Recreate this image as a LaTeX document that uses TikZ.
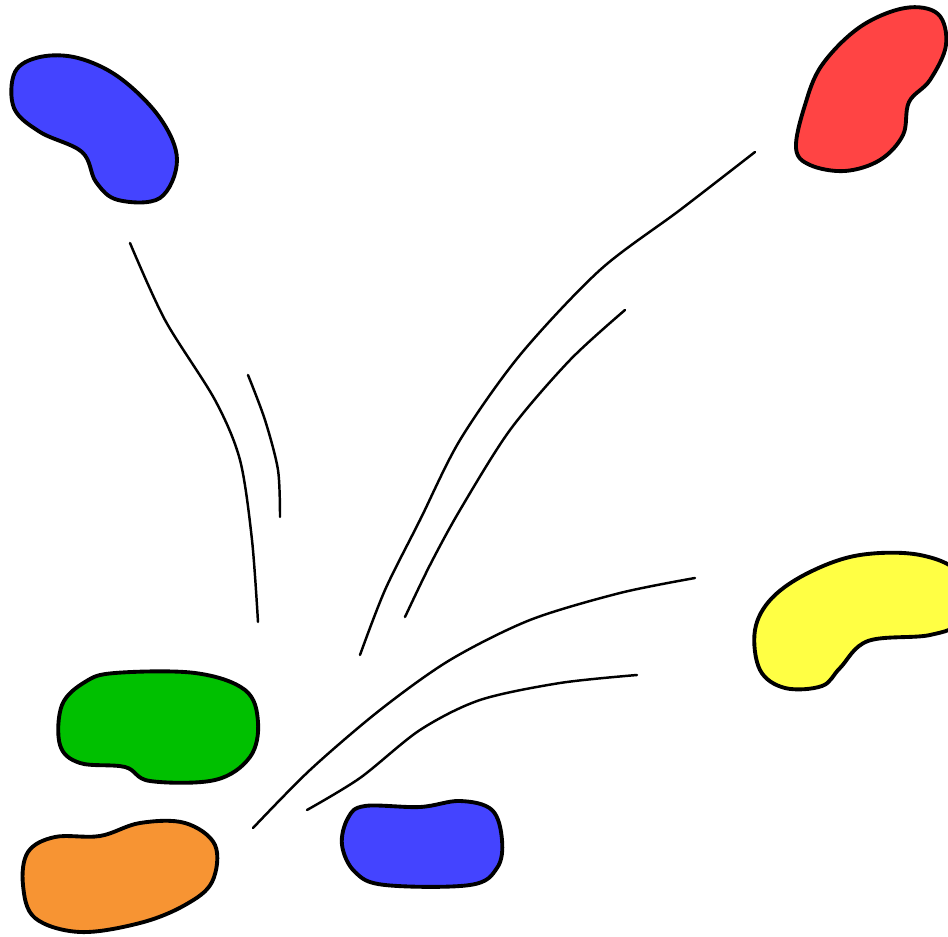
\documentclass[tikz,border=0pt]{standalone}
\definecolor{beanblue}{HTML}{4444FF}
\definecolor{beanred}{HTML}{FF4444}
\definecolor{beanyellow}{HTML}{FFFF44}
\definecolor{beangreen}{HTML}{00C000}
\definecolor{beanorange}{HTML}{F79433}
\begin{document}
\begin{tikzpicture}[
    x=0.01cm,y=-0.01cm,
    line cap=round,line join=round,
    bean/.style={draw=black,line width=1.1pt,fill=#1},
    whoosh/.style={draw=black,line width=0.7pt}
]
    \useasboundingbox (0,0) rectangle (948,937);
    \clip (0,0) rectangle (948,937);
    % jelly beans
    \path[bean=beanblue] plot[smooth cycle,tension=0.6] coordinates {
        (40,57) (78,58) (120,78) (160,118) (177,160) (160,198) (118,200)
        (96,182) (82,152) (40,132) (14,108) (15,72)};
    \path[bean=beanred] plot[smooth cycle,tension=0.6] coordinates {
        (905,8) (938,14) (946,45) (930,80) (909,102) (903,135) (880,160)
        (845,171) (810,165) (796,148) (805,105) (822,65) (860,27)};
    \path[bean=beanyellow] plot[smooth cycle,tension=0.6] coordinates {
        (860,555) (920,555) (960,575) (960,620) (930,635) (868,641)
        (840,668) (822,686) (785,688) (760,670) (755,630) (772,598)
        (810,572)};
    \path[bean=beangreen] plot[smooth cycle,tension=0.6] coordinates {
        (115,673) (195,673) (245,690) (258,722) (250,757) (215,780)
        (150,781) (125,767) (80,763) (60,745) (62,705) (85,682)};
    \path[bean=beanorange] plot[smooth cycle,tension=0.6] coordinates {
        (55,837) (100,836) (140,823) (185,823) (215,845) (212,882)
        (185,905) (140,923) (80,932) (35,918) (23,885) (28,852)};
    \path[bean=beanblue] plot[smooth cycle,tension=0.6] coordinates {
        (365,806) (420,807) (460,801) (492,810) (502,840) (497,868)
        (470,885) (385,885) (355,872) (342,845) (348,818)};
    % motion lines
    \draw[whoosh] plot[smooth] coordinates {
        (130,243) (165,320) (215,400) (240,460) (252,540) (258,622)};
    \draw[whoosh] plot[smooth] coordinates {
        (248,375) (265,420) (278,470) (280,517)};
    \draw[whoosh] plot[smooth] coordinates {
        (755,152) (680,210) (600,270) (520,355) (460,440) (420,520)
        (385,590) (360,655)};
    \draw[whoosh] plot[smooth] coordinates {
        (625,310) (570,360) (510,430) (460,510) (430,565) (405,617)};
    \draw[whoosh] plot[smooth] coordinates {
        (695,578) (620,593) (530,620) (450,660) (380,710) (310,770)
        (253,828)};
    \draw[whoosh] plot[smooth] coordinates {
        (637,675) (560,683) (480,700) (420,730) (360,778) (307,810)};
\end{tikzpicture}
\end{document}
